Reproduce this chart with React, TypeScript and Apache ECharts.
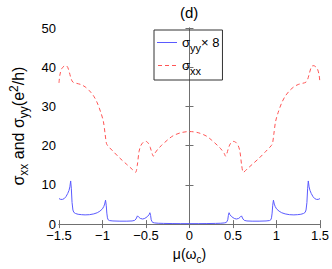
import React, { useEffect, useRef } from "react";
import * as echarts from "echarts";

const muYY = [
  -1.5, -1.48, -1.46, -1.44, -1.42, -1.4, -1.385, -1.375, -1.366, -1.358, -1.35, -1.34, -1.33, -1.31, -1.28, -1.24, -1.2, -1.15, -1.1, -1.06, -1.03, -1.0, -0.985, -0.975, -0.965, -0.957, -0.95, -0.943, -0.935, -0.92, -0.88, -0.8, -0.72, -0.66, -0.63, -0.615, -0.598, -0.585, -0.565, -0.54, -0.52, -0.5, -0.48, -0.465, -0.455, -0.447, -0.44, -0.43, -0.42, -0.4, -0.36, -0.3, -0.2, -0.1, 0,
  0.1, 0.2, 0.3, 0.36, 0.4, 0.42, 0.43, 0.44, 0.447, 0.455, 0.465, 0.48, 0.5, 0.52, 0.54, 0.565, 0.585, 0.598, 0.615, 0.63, 0.66, 0.72, 0.8, 0.88, 0.92, 0.935, 0.943, 0.95, 0.957, 0.965, 0.975, 0.985, 1.0, 1.03, 1.06, 1.1, 1.15, 1.2, 1.24, 1.28, 1.31, 1.33, 1.34, 1.35, 1.358, 1.366, 1.375, 1.385, 1.4, 1.42, 1.44, 1.46, 1.48, 1.5,
];
const sigmaYY8 = [
  6.5, 6.3, 6.3, 6.5, 7.0, 7.8, 8.6, 9.5, 11.0, 9.0, 5.5, 3.6, 3.0, 2.7, 2.5, 2.4, 2.35, 2.4, 2.6, 2.9, 3.3, 3.9, 4.5, 5.1, 6.1, 4.8, 2.8, 1.6, 1.1, 0.9, 0.8, 0.75, 0.75, 0.8, 0.95, 1.3, 2.1, 1.8, 1.45, 1.3, 1.4, 1.65, 2.0, 2.4, 2.9, 2.2, 1.1, 0.6, 0.4, 0.3, 0.22, 0.18, 0.14, 0.12, 0.12,
  0.12, 0.14, 0.18, 0.22, 0.3, 0.4, 0.6, 1.1, 2.2, 2.9, 2.4, 2.0, 1.65, 1.4, 1.3, 1.45, 1.8, 2.1, 1.3, 0.95, 0.8, 0.75, 0.75, 0.8, 0.9, 1.1, 1.6, 2.8, 4.8, 6.1, 5.1, 4.5, 3.9, 3.3, 2.9, 2.6, 2.4, 2.35, 2.4, 2.5, 2.7, 3.0, 3.6, 5.5, 9.0, 11.0, 9.5, 8.6, 7.8, 7.0, 6.5, 6.3, 6.3, 6.5,
];

const muXX = [
  -1.5, -1.49, -1.47, -1.44, -1.42, -1.4, -1.38, -1.36, -1.34, -1.3, -1.25, -1.2, -1.15, -1.1, -1.06, -1.02, -0.99, -0.97, -0.955, -0.94, -0.88, -0.8, -0.72, -0.66, -0.62, -0.6, -0.58, -0.56, -0.53, -0.5, -0.47, -0.45, -0.43, -0.415, -0.4, -0.36, -0.32, -0.25, -0.19, -0.1, 0,
  0.1, 0.19, 0.25, 0.32, 0.36, 0.4, 0.415, 0.43, 0.45, 0.47, 0.5, 0.53, 0.56, 0.58, 0.6, 0.62, 0.66, 0.72, 0.8, 0.88, 0.94, 0.955, 0.97, 0.99, 1.02, 1.06, 1.1, 1.15, 1.2, 1.25, 1.3, 1.34, 1.36, 1.38, 1.4, 1.42, 1.44, 1.47, 1.49, 1.5,
];
const sigmaXX = [
  36.0, 38.0, 39.6, 40.3, 40.4, 40.0, 38.6, 37.0, 36.2, 35.9, 35.6, 35.0, 34.0, 32.6, 30.9, 28.5, 26.2, 23.0, 20.6, 20.0, 18.6, 16.8, 15.2, 14.0, 13.2, 15.0, 18.5, 20.0, 20.9, 21.1, 20.5, 19.5, 18.0, 17.3, 18.0, 19.2, 20.1, 21.5, 22.5, 23.3, 23.6,
  23.3, 22.5, 21.5, 20.1, 19.2, 18.0, 17.3, 18.0, 19.5, 20.5, 21.1, 20.9, 20.0, 18.5, 15.0, 13.2, 14.0, 15.2, 16.8, 18.6, 20.0, 20.6, 23.0, 26.2, 28.5, 30.9, 32.6, 34.0, 35.0, 35.6, 35.9, 36.2, 37.0, 38.6, 40.0, 40.4, 40.3, 39.6, 38.0, 36.0,
];

const xTicks = [-1.5, -1, -0.5, 0, 0.5, 1, 1.5];
const yTicks = [0, 10, 20, 30, 40, 50];

const FONT = "'Liberation Sans', Arial, Helvetica, sans-serif";
const AXIS_COLOR = "#707070";
const BLUE = "#5a5aff";
const RED = "#ff5555";

export default function App() {
  const ref = useRef<HTMLDivElement>(null);
  useEffect(() => {
    if (!ref.current) return;
    const chart = echarts.init(ref.current, undefined, { renderer: "svg" });
    const fmt = (v: number) => String(v).replace("-", "\u2212");
    const tickCommon = {
      axisTick: { show: true, inside: true, length: 4, lineStyle: { color: AXIS_COLOR } },
      axisLine: { show: true, lineStyle: { color: AXIS_COLOR, width: 1 } },
      splitLine: { show: false },
    };
    const legendRich = {
      s: { fontSize: 13, fontFamily: FONT, color: "#000" },
      sub: { fontSize: 11, fontFamily: FONT, color: "#000", padding: [10, 0, 0, 0] },
    };
    chart.setOption({
      animation: false,
      backgroundColor: "#fff",
      title: {
        text: "(d)",
        left: 175,
        top: 0,
        textStyle: { fontSize: 15, fontWeight: "normal", fontFamily: FONT, color: "#000" },
      },
      legend: {
        orient: "vertical",
        left: 154,
        top: 30,
        padding: [6, 3, 4, 3],
        itemGap: 6,
        itemWidth: 20,
        itemHeight: 1,
        borderColor: "#333",
        borderWidth: 1,
        data: [
          { name: "yy", icon: "path://M0 0H20V1H0Z" },
          { name: "xx", icon: "path://M0 0H4V1H0Z M7 0H11V1H7Z M14 0H18V1H14Z" },
        ],
        formatter: (name: string) =>
          name === "yy" ? "{s|\u03c3}{sub|yy}{s|\u00d7 8}" : "{s|\u03c3}{sub|xx}",
        textStyle: { rich: legendRich },
      },
      grid: { left: 49, right: 11, top: 28, bottom: 35 },
      xAxis: [
        {
          type: "value",
          min: -1.5,
          max: 1.5,
          interval: 0.5,
          position: "bottom",
          ...tickCommon,
          axisLabel: {
            fontSize: 13,
            lineHeight: 13,
            fontFamily: FONT,
            color: "#000",
            margin: 5,
            formatter: (v: number) => (xTicks.includes(v) ? fmt(v) : ""),
          },
          name: "\u03bc(\u03c9{sub|c})",
          nameLocation: "middle",
          nameGap: 19,
          nameTextStyle: {
            fontSize: 14,
            fontFamily: FONT,
            color: "#000",
            rich: { sub: { fontSize: 10, fontFamily: FONT, color: "#000", padding: [10, 0, 0, 0] } },
          },
        },
        {
          type: "value",
          min: -1.5,
          max: 1.5,
          interval: 0.5,
          position: "top",
          ...tickCommon,
          axisLabel: { show: false },
        },
      ],
      yAxis: [
        {
          type: "value",
          min: 0,
          max: 50,
          interval: 10,
          position: "left",
          ...tickCommon,
          axisLabel: {
            fontSize: 13,
            lineHeight: 10,
            fontFamily: FONT,
            color: "#000",
            margin: 3,
            formatter: (v: number) => (yTicks.includes(v) ? String(v) : ""),
          },
          name: "{s|\u03c3}{sub|xx}{s| and \u03c3}{sub|yy}{s|(e}{sup|2}{s|/h)}",
          nameLocation: "middle",
          nameRotate: 90,
          nameGap: 29,
          nameTextStyle: {
            rich: {
              s: { fontSize: 16, fontFamily: FONT, color: "#000" },
              sub: { fontSize: 12, fontFamily: FONT, color: "#000", padding: [11, 0, 0, 0] },
              sup: { fontSize: 12, fontFamily: FONT, color: "#000", padding: [0, 0, 9, 0] },
            },
          },
        },
        {
          type: "value",
          min: 0,
          max: 50,
          interval: 10,
          position: "right",
          ...tickCommon,
          axisLabel: { show: false },
        },
      ],
      series: [
        {
          name: "yy",
          type: "line",
          xAxisIndex: 0,
          yAxisIndex: 0,
          showSymbol: false,
          symbol: "none",
          data: muYY.map((m, i) => [m, sigmaYY8[i]]),
          lineStyle: { color: BLUE, width: 1 },
          itemStyle: { color: BLUE },
        },
        {
          name: "xx",
          type: "line",
          xAxisIndex: 0,
          yAxisIndex: 0,
          showSymbol: false,
          symbol: "none",
          smooth: 0.3,
          data: muXX.map((m, i) => [m, sigmaXX[i]]),
          lineStyle: { color: RED, width: 1, type: [4, 3] },
          itemStyle: { color: RED },
        },
      ],
    });
    return () => chart.dispose();
  }, []);
  return <div ref={ref} style={{ width: 332, height: 269, position: "absolute", left: 0, top: 0 }} />;
}
